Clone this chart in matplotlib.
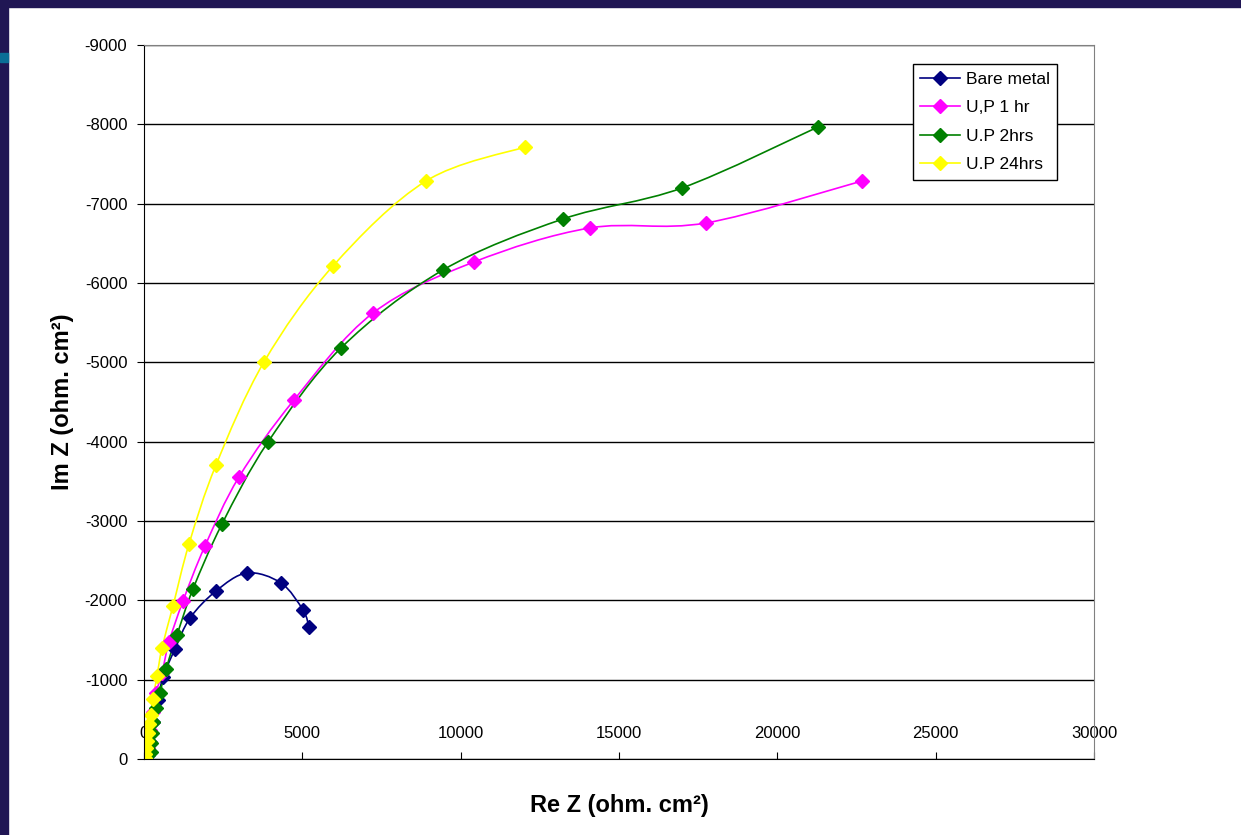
import matplotlib
matplotlib.use("Agg")
import matplotlib.pyplot as plt
from matplotlib.path import Path
from matplotlib.patches import PathPatch, Rectangle
import numpy as np

plt.rcParams['font.family'] = ['Liberation Sans', 'DejaVu Sans']
plt.rcParams['axes.unicode_minus'] = False

# Nyquist data (Re Z, Im Z), ohm.cm2
bare_re = [126, 189, 284, 442, 600, 979, 1453, 2274, 3253, 4326, 5021, 5211]
bare_im = [-50, -214, -466, -744, -1034, -1387, -1777, -2118, -2345, -2219, -1878, -1664]

up1_re = [126, 189, 284, 379, 568, 790, 1232, 1926, 3000, 4737, 7232, 10421, 14085, 17748, 22674]
up1_im = [-139, -366, -592, -832, -1084, -1475, -1992, -2685, -3555, -4526, -5622, -6265, -6694, -6757, -7286]

up2_re = [221, 221, 253, 284, 379, 505, 695, 1042, 1547, 2463, 3916, 6221, 9442, 13232, 16990, 21285]
up2_im = [-88, -202, -328, -466, -643, -832, -1135, -1563, -2143, -2962, -3996, -5181, -6164, -6807, -7198, -7967]

up24_re = [32, 32, 63, 95, 126, 158, 221, 284, 411, 568, 916, 1421, 2274, 3790, 5969, 8906, 12032]
up24_im = [-13, -63, -139, -227, -328, -441, -555, -756, -1046, -1399, -1929, -2710, -3706, -5005, -6215, -7286, -7715]

labels = ["Bare metal", "U,P 1 hr", "U.P 2hrs", "U.P 24hrs"]
colors = ["#000080", "#FF00FF", "#008000", "#FFFF00"]
series = [(bare_re, bare_im), (up1_re, up1_im), (up2_re, up2_im), (up24_re, up24_im)]


def smooth_path(x, y):
    # excel-like smoothed line: catmull-rom turned into bezier segments
    p = np.column_stack([x, y]).astype(float)
    n = len(p)
    verts = [p[0]]
    codes = [Path.MOVETO]
    for i in range(n - 1):
        p0 = p[i - 1] if i > 0 else p[i]
        p3 = p[i + 2] if i + 2 < n else p[i + 1]
        c1 = p[i] + (p[i + 1] - p0) / 6.0
        c2 = p[i + 1] - (p3 - p[i]) / 6.0
        verts += [c1, c2, p[i + 1]]
        codes += [Path.CURVE4] * 3
    return Path(verts, codes)


fig = plt.figure(figsize=(12.41, 8.35), dpi=100)
fig.patch.set_facecolor("white")
ax = fig.add_axes([144 / 1241, 1 - 759 / 835, 950 / 1241, 714 / 835])

for (xs, ys), lab, col in zip(series, labels, colors):
    ax.add_patch(PathPatch(smooth_path(xs, ys), fill=False, edgecolor=col, lw=1.2))
    ax.plot(xs, ys, ls="none", marker="D", ms=7, color=col)
    ax.plot([], [], color=col, lw=1.2, marker="D", ms=7, label=lab)

ax.set_xlim(0, 30000)
ax.set_ylim(0, -9000)
ax.set_xticks(np.arange(0, 30001, 5000))
ax.set_yticks(np.arange(0, -9001, -1000))
ax.yaxis.grid(True, color="black", lw=1.0)
ax.set_axisbelow(True)

ax.tick_params(axis="x", direction="in", length=5, pad=-24, labelsize=12)
ax.tick_params(axis="y", direction="out", length=5, pad=7, labelsize=12)
ax.spines["top"].set_color("#808080")
ax.spines["right"].set_color("#808080")
ax.spines["left"].set_color("black")
ax.spines["bottom"].set_color("black")

ax.set_xlabel("Re Z (ohm. cm²)", fontsize=17, fontweight="bold", labelpad=25)
ax.set_ylabel("Im Z (ohm. cm²)", fontsize=17, fontweight="bold", labelpad=8)

leg = ax.legend(loc="upper left", bbox_to_anchor=(0.809, 0.973), borderaxespad=0,
                fontsize=12.5, fancybox=False, edgecolor="black", framealpha=1,
                handlelength=2.3, handletextpad=0.3, labelspacing=0.75, borderpad=0.45)
leg.get_frame().set_linewidth(1.0)

# slide background strips
fig.patches.append(Rectangle((0, 1 - 7 / 835), 1, 7 / 835, transform=fig.transFigure,
                             color="#201654", zorder=-1))
fig.patches.append(Rectangle((0, 0), 8 / 1241, 1, transform=fig.transFigure,
                             color="#201654", zorder=-1))
fig.patches.append(Rectangle((0, 1 - 62 / 835), 8 / 1241, 9 / 835, transform=fig.transFigure,
                             color="#0a6e96", zorder=0))

fig.savefig("out.png", dpi=100)
